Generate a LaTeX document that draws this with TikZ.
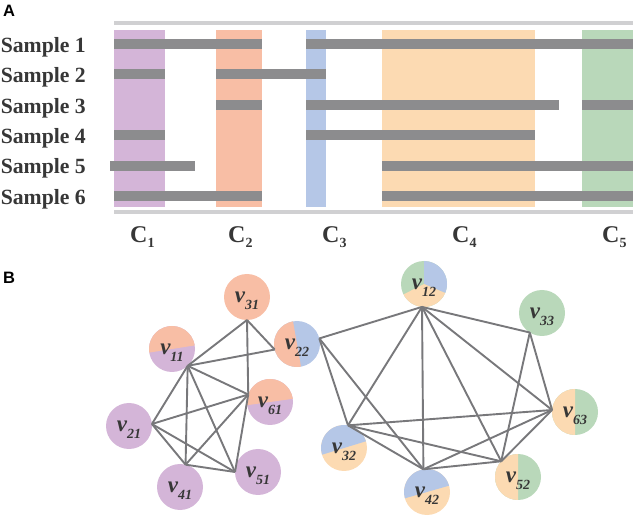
\documentclass[tikz,border=0pt]{standalone}
\usepackage{fontspec}
\setmainfont{Liberation Serif}
\newfontfamily\lsans{Liberation Sans}
\definecolor{cpur}{RGB}{212,181,216}
\definecolor{csal}{RGB}{248,190,165}
\definecolor{cblu}{RGB}{181,199,231}
\definecolor{cora}{RGB}{252,218,178}
\definecolor{cgrn}{RGB}{185,216,186}
\definecolor{cbar}{RGB}{140,140,142}
\definecolor{cline}{RGB}{208,208,210}
\definecolor{cedge}{RGB}{120,120,123}
\definecolor{ctxt}{RGB}{55,55,55}
\newcommand\mylab[1]{{\fontsize{23}{23}\selectfont\bfseries\itshape v}\raisebox{-7pt}{\fontsize{14}{14}\selectfont\bfseries\itshape #1}}
\newcommand\mysub[1]{C\raisebox{-5pt}{\fontsize{14}{14}\selectfont #1}}
\tikzset{
  panel/.style={font=\lsans\bfseries\fontsize{16.5}{16.5}\selectfont, anchor=base west, inner sep=0},
  samp/.style={font=\bfseries\fontsize{21.7}{21.7}\selectfont, text=ctxt, anchor=base east, inner sep=0},
  clab/.style={font=\bfseries\fontsize{24}{24}\selectfont, text=ctxt, anchor=base west, inner sep=0},
  bar/.style={cbar, line width=10pt},
  rule/.style={cline, line width=4pt},
  vert/.style={circle, minimum size=46pt, inner sep=0, outer sep=0, fill=#1},
  vtxt/.style={text=ctxt, inner sep=0},
  edge/.style={cedge, line width=1.9pt}
}
\begin{document}
\begin{tikzpicture}[x=1pt,y=1pt]
\useasboundingbox (0,0) rectangle (633,515);
% ---------- Panel A ----------
\node[panel] (pA) at (3,498) {A};
\fill[cpur] (114,307.5) rectangle (165,485);
\fill[csal] (216,307.5) rectangle (262,485);
\fill[cblu] (306,307.5) rectangle (326,485);
\fill[cora] (382,307.5) rectangle (535,485);
\fill[cgrn] (582,307.5) rectangle (633,485);
\draw[rule] (114,491.5) -- (633,491.5);
\draw[rule] (114,302.5) -- (633,302.5);
% bars
\draw[bar] (114,471) -- (262,471);
\draw[bar] (306,471) -- (633,471);
\draw[bar] (114,440.6) -- (165,440.6);
\draw[bar] (216,440.6) -- (326,440.6);
\draw[bar] (216,410.2) -- (262,410.2);
\draw[bar] (306,410.2) -- (559,410.2);
\draw[bar] (582,410.2) -- (633,410.2);
\draw[bar] (114,379.8) -- (165,379.8);
\draw[bar] (306,379.8) -- (535,379.8);
\draw[bar] (110,349.4) -- (195,349.4);
\draw[bar] (382,349.4) -- (633,349.4);
\draw[bar] (114,319) -- (262,319);
\draw[bar] (382,319) -- (633,319);
% sample labels
\node[samp] (s1) at (86,462.7) {Sample 1};
\node[samp] (s2) at (86,432.3) {Sample 2};
\node[samp] (s3) at (86,401.9) {Sample 3};
\node[samp] (s4) at (86,371.5) {Sample 4};
\node[samp] (s5) at (86,341.1) {Sample 5};
\node[samp] (s6) at (86,310.7) {Sample 6};
% cluster labels
\node[clab] (c1) at (130,272) {\mysub{1}};
\node[clab] (c2) at (228,272) {\mysub{2}};
\node[clab] (c3) at (322,272) {\mysub{3}};
\node[clab] (c4) at (452,272) {\mysub{4}};
\node[clab] (c5) at (602,272) {\mysub{5}};
% ---------- Panel B ----------
\node[panel] (pB) at (3,231) {B};
\node[vert=csal] (v31) at (247,218) {};
\node[vert=cpur] (v11) at (172,166) {};
\node[vert=cblu] (v22) at (297,171) {};
\node[vert=cpur] (v61) at (270,113) {};
\node[vert=cpur] (v21) at (129,89) {};
\node[vert=cpur] (v41) at (180,28) {};
\node[vert=cpur] (v51) at (258,43) {};
\node[vert=cgrn] (v12) at (424,231) {};
\node[vert=cgrn] (v33) at (542,202) {};
\node[vert=cgrn] (v63) at (575,103) {};
\node[vert=cgrn] (v52) at (518,38) {};
\node[vert=cora] (v42) at (427,23) {};
\node[vert=cora] (v32) at (344,67) {};
% pie parts
\fill[csal] (v11.center) -- (v11.9) arc[start angle=9, end angle=189, radius=23] -- cycle;
\fill[csal] (v22.center) -- (v22.100) arc[start angle=100, end angle=280, radius=23] -- cycle;
\fill[csal] (v61.center) -- (v61.8) arc[start angle=8, end angle=188, radius=23] -- cycle;
\fill[cblu] (v12.center) -- (v12.337) arc[start angle=-23, end angle=90, radius=23] -- cycle;
\fill[cora] (v12.center) -- (v12.207) arc[start angle=207, end angle=337, radius=23] -- cycle;
\fill[cora] (v63.center) -- (v63.90) arc[start angle=90, end angle=270, radius=23] -- cycle;
\fill[cora] (v52.center) -- (v52.90) arc[start angle=90, end angle=270, radius=23] -- cycle;
\fill[cblu] (v42.center) -- (v42.16) arc[start angle=16, end angle=196, radius=23] -- cycle;
\fill[cblu] (v32.center) -- (v32.17) arc[start angle=17, end angle=197, radius=23] -- cycle;
% edges, left group
\draw[edge] (v31.270) -- (v11.313);
\draw[edge] (v31.270) -- (v22.194);
\draw[edge] (v31.270) -- (v61.161);
\draw[edge] (v11.313) -- (v22.194);
\draw[edge] (v11.313) -- (v61.161);
\draw[edge] (v11.313) -- (v21.5);
\draw[edge] (v11.313) -- (v41.76);
\draw[edge] (v11.313) -- (v51.180);
\draw[edge] (v61.161) -- (v21.5);
\draw[edge] (v61.161) -- (v41.76);
\draw[edge] (v61.161) -- (v51.180);
\draw[edge] (v21.5) -- (v41.76);
\draw[edge] (v21.5) -- (v51.180);
\draw[edge] (v41.76) -- (v51.180);
% edges, right group
\draw[edge] (v12.265) -- (v22.14);
\draw[edge] (v12.265) -- (v32.80);
\draw[edge] (v12.265) -- (v42.99);
\draw[edge] (v12.265) -- (v52.137);
\draw[edge] (v12.265) -- (v63.175);
\draw[edge] (v12.265) -- (v33.238);
\draw[edge] (v22.14) -- (v32.80);
\draw[edge] (v22.14) -- (v42.99);
\draw[edge] (v32.80) -- (v42.99);
\draw[edge] (v32.80) -- (v52.137);
\draw[edge] (v32.80) -- (v63.175);
\draw[edge] (v42.99) -- (v52.137);
\draw[edge] (v42.99) -- (v63.175);
\draw[edge] (v52.137) -- (v63.175);
\draw[edge] (v33.238) -- (v63.175);
\draw[edge] (v33.238) -- (v52.137);
% vertex labels
\node[vtxt] (t31) at ([yshift=-4pt]v31.center) {\mylab{31}};
\node[vtxt] (t11) at ([yshift=-4pt]v11.center) {\mylab{11}};
\node[vtxt] (t22) at ([yshift=-4pt]v22.center) {\mylab{22}};
\node[vtxt] (t61) at ([yshift=-4pt]v61.center) {\mylab{61}};
\node[vtxt] (t21) at ([yshift=-4pt]v21.center) {\mylab{21}};
\node[vtxt] (t41) at ([yshift=-4pt]v41.center) {\mylab{41}};
\node[vtxt] (t51) at ([yshift=-4pt]v51.center) {\mylab{51}};
\node[vtxt] (t12) at ([yshift=-4pt]v12.center) {\mylab{12}};
\node[vtxt] (t33) at ([yshift=-4pt]v33.center) {\mylab{33}};
\node[vtxt] (t63) at ([yshift=-4pt]v63.center) {\mylab{63}};
\node[vtxt] (t52) at ([yshift=-4pt]v52.center) {\mylab{52}};
\node[vtxt] (t42) at ([yshift=-4pt]v42.center) {\mylab{42}};
\node[vtxt] (t32) at ([yshift=-4pt]v32.center) {\mylab{32}};
\end{tikzpicture}
\end{document}
